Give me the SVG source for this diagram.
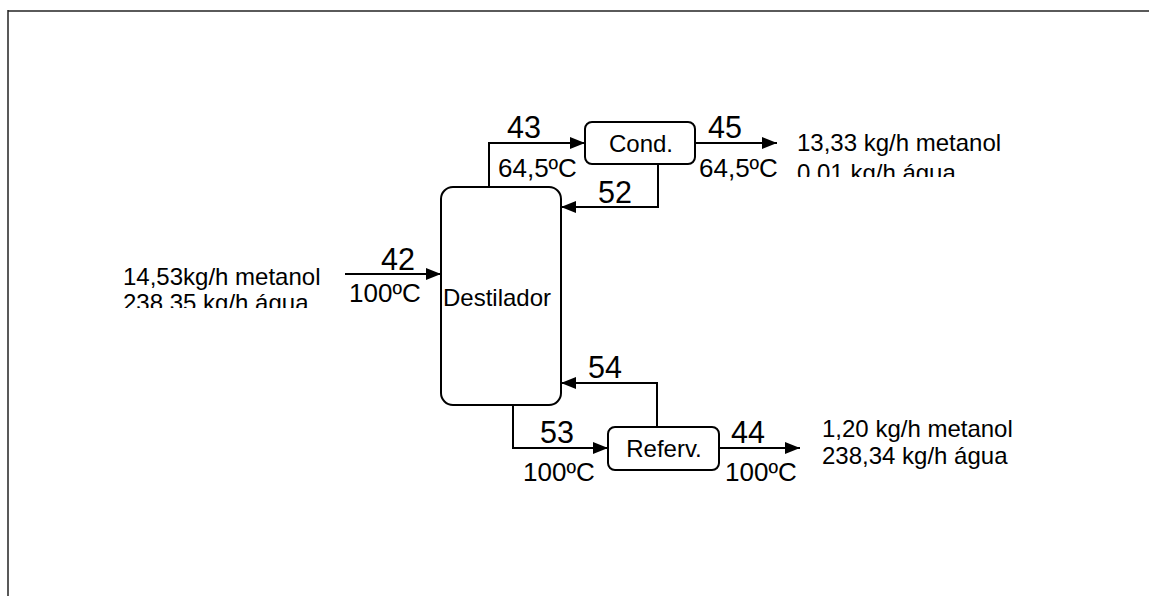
<svg xmlns="http://www.w3.org/2000/svg" width="1149" height="596" viewBox="0 0 1149 596">
<defs>
<style>
.t{font-family:"Liberation Sans",Arial,sans-serif;fill:#000}
.lab{font-size:24px}
.num{font-size:30.5px}
.tmp{font-size:26px}
.box{fill:#fff;stroke:#000;stroke-width:2}
.ln{fill:none;stroke:#000;stroke-width:2}
</style>
<marker id="ah" viewBox="0 0 15 12" refX="15" refY="6" markerWidth="15" markerHeight="12" markerUnits="userSpaceOnUse" orient="auto">
<path d="M0,0 L15,6 L0,12 Z" fill="#000"/>
</marker>
<clipPath id="c1"><rect x="780" y="100" width="300" height="77"/></clipPath>
<clipPath id="c2"><rect x="100" y="250" width="240" height="58"/></clipPath>
</defs>
<rect width="1149" height="596" fill="#fff"/>
<path d="M8,11 H1149" stroke="#5a5a5a" stroke-width="2"/>
<path d="M8,10 V596" stroke="#222" stroke-width="1.5"/>

<g id="connectors">
<path class="ln" d="M489,187 V143 H585" marker-end="url(#ah)"/>
<path class="ln" d="M695,143 H777" marker-end="url(#ah)"/>
<path class="ln" d="M658,164 V207 H561" marker-end="url(#ah)"/>
<path class="ln" d="M345,274 H441" marker-end="url(#ah)"/>
<path class="ln" d="M513,405 V448 H608" marker-end="url(#ah)"/>
<path class="ln" d="M657,427 V383 H561" marker-end="url(#ah)"/>
<path class="ln" d="M719,448 H800" marker-end="url(#ah)"/>
</g>

<g id="destilador">
<rect class="box" x="441" y="187" width="120" height="218" rx="12"/>
<text class="t lab" x="497" y="306" text-anchor="middle">Destilador</text>
</g>
<g id="cond">
<rect class="box" x="585" y="122" width="110" height="42" rx="7"/>
<text class="t lab" x="641" y="152" text-anchor="middle">Cond.</text>
</g>
<g id="referv">
<rect class="box" x="608" y="427" width="111" height="43" rx="7"/>
<text class="t lab" x="664" y="457" text-anchor="middle">Referv.</text>
</g>

<g id="labels">
<text class="t num" x="507" y="138">43</text>
<text class="t tmp" x="498" y="177">64,5ºC</text>
<text class="t num" x="708" y="138">45</text>
<text class="t tmp" x="699" y="177">64,5ºC</text>
<text class="t num" x="598" y="203">52</text>
<text class="t num" x="381" y="270">42</text>
<text class="t tmp" x="349" y="302">100ºC</text>
<text class="t num" x="588" y="378">54</text>
<text class="t num" x="540" y="443">53</text>
<text class="t tmp" x="523" y="481">100ºC</text>
<text class="t num" x="731" y="443">44</text>
<text class="t tmp" x="725" y="481">100ºC</text>
</g>

<g id="streams">
<text class="t lab" x="797" y="151">13,33 kg/h metanol</text>
<text class="t lab" x="797" y="181" clip-path="url(#c1)">0,01 kg/h água</text>
<text class="t lab" x="123" y="285">14,53kg/h metanol</text>
<text class="t lab" x="123" y="311" clip-path="url(#c2)">238,35 kg/h água</text>
<text class="t lab" x="822" y="437">1,20 kg/h metanol</text>
<text class="t lab" x="822" y="464">238,34 kg/h água</text>
</g>
</svg>
